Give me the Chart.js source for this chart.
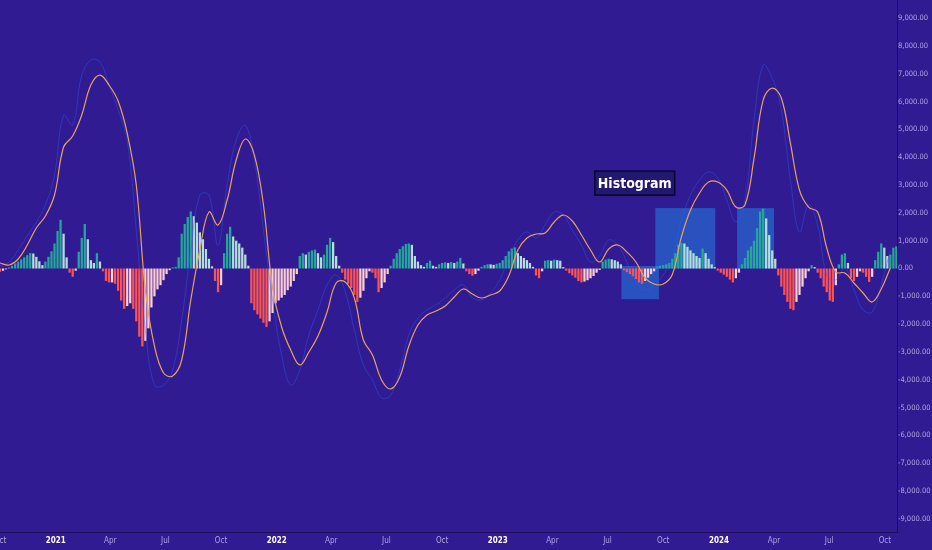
<!DOCTYPE html>
<html>
<head>
<meta charset="utf-8">
<script src="https://cdn.jsdelivr.net/npm/chart.js@4.4.1/dist/chart.umd.min.js"></script>
<style>
html,body{margin:0;padding:0;background:#311b92;overflow:hidden}
canvas{display:block}
</style>
</head>
<body>
<canvas id="macd" width="932" height="550"></canvas>
<script>
// days counted from 1 Oct 2020
const HIST_STEP=5, LINE_STEP=15;
const tickDays=[0,92,182,273,365,457,547,638,730,822,912,1003,1095,1187,1278,1369,1461];
const tickLabels=['Oct','2021','Apr','Jul','Oct','2022','Apr','Jul','Oct','2023','Apr','Jul','Oct','2024','Apr','Jul','Oct'];
const yTicks=[-9000,-8000,-7000,-6000,-5000,-4000,-3000,-2000,-1000,0,1000,2000,3000,4000,5000,6000,7000,8000,9000];

const histogram=[-120,-80,-30,40,100,180,250,330,400,480,560,540,420,260,120,
 250,420,620,900,1350,1750,1250,400,-150,-300,-80,600,1100,1600,1050,300,200,550,250,
 -100,-450,-500,-500,-550,-800,-1150,-1450,-1350,-1250,-1450,-1900,-2450,-2800,-2600,-2150,-1400,-1000,-750,-600,-420,-200,-60,
 40,60,400,1250,1600,1850,2050,1880,1650,1300,1050,700,350,80,-450,-850,-600,
 550,1250,1500,1150,1000,900,750,500,100,
 -1250,-1500,-1650,-1800,-1950,-2100,-1900,-1600,-1250,-1150,-1050,-950,-780,-650,-450,-200,
 450,550,500,600,650,680,550,400,500,850,1100,950,450,100,
 -150,-400,-550,-700,-950,-1200,-1050,-800,-350,-100,-150,-350,-850,-700,-500,-200,
 100,350,550,700,800,880,900,850,450,250,120,
 60,200,280,100,60,150,200,220,200,230,200,250,380,180,
 -100,-200,-260,-200,-80,60,120,150,150,130,170,200,
 300,450,620,720,760,550,450,380,300,200,60,-250,-350,-100,
 280,300,280,320,300,280,50,
 -80,-170,-250,-330,-450,-500,-470,-420,-350,-270,-150,-50,
 250,320,350,330,300,250,150,
 -60,-130,-200,-280,-380,-500,-550,-450,-330,-200,-100,
 40,100,120,150,200,350,550,850,920,900,780,650,550,450,380,720,550,350,150,50,
 -80,-150,-220,-300,-400,-500,-350,-150,
 150,380,650,800,1000,1450,2050,2150,1800,1200,650,350,
 -250,-650,-950,-1200,-1450,-1500,-1200,-950,-650,-350,-100,120,50,
 -150,-350,-650,-850,-1150,-1200,-600,150,500,550,200,
 -350,-450,-300,-100,-150,-300,-480,-300,
 300,600,900,750,450,500,750,800];

const macdLine=[100,230,660,1170,1670,2280,3360,5510,5150,6950,
 7490,7420,6590,5700,4620,1380,-2210,-4190,-4190,-3650,
 -1850,660,2640,2640,840,3000,4620,5150,3900,1380,
 -1130,-3110,-4190,-3650,-2390,-1490,-590,-230,-840,-2210,
 -3470,-4010,-4650,-4550,-3650,-2390,-1780,-1490,-1310,-1060,
 -770,-590,-1060,-1130,-880,-410,380,1020,1310,1100,
 1560,2030,1920,1380,840,230,450,1020,840,230,
 -490,-770,-590,-230,380,1740,2640,3180,3470,3250,
 2460,1670,2460,5340,7310,6840,5700,3180,1310,2280,
 1560,-230,-410,20,-770,-1490,-1560,-590,660];

const signalLine=[198,126,341,844,1455,1886,2641,4365,4760,5515,
 6593,6952,6593,6018,4868,3000,-772,-2785,-3755,-3863,
 -3288,-1132,665,2030,1563,2461,3898,4653,4078,2282,
 -700,-2102,-2928,-3467,-3000,-2425,-1563,-521,-485,-1060,
 -2569,-3108,-4006,-4329,-3898,-2785,-2030,-1671,-1527,-1347,
 -1024,-736,-916,-1060,-952,-808,-270,665,1096,1240,
 1276,1671,1922,1707,1204,665,234,700,844,593,
 234,-341,-557,-557,-216,1132,2102,2713,3108,3108,
 2820,2210,2282,3970,6054,6485,6126,4509,2820,2210,
 2030,737,-126,-162,-521,-880,-1204,-736,18];

// highlighted zones (days / values) and the label
const zoneFrom=[1026,1082,1217], zoneTo=[1088,1181,1278];
const zoneTop=[90,2170,2170], zoneBottom=[-1100,0,0];
const noteText='Histogram', noteDay=1048, noteValue=3070;

const BG='#311b92';
const TXT='rgba(205,198,240,0.8)';
const NARROW='"Liberation Sans Narrow","DejaVu Sans Condensed",sans-serif';

function histColor(ctx){
 const i=ctx.dataIndex, v=histogram[i], p=i>0?histogram[i-1]:0;
 if(v>=0)return v>p?'#26a69a':'#b2dfdb';
 return v<p?'#ff5252':'#ffcdd2';
}

const bgPlugin={id:'bg',beforeDraw(chart){
 const c=chart.ctx;c.save();c.fillStyle=BG;c.fillRect(0,0,chart.width,chart.height);c.restore();
}};
const notes={id:'notes',
 beforeDatasetsDraw(chart){
  const {ctx,scales:{x,y}}=chart;ctx.save();ctx.fillStyle='rgba(33,150,243,0.45)';
  zoneFrom.forEach((f,i)=>{
   const x0=x.getPixelForValue(f),x1=x.getPixelForValue(zoneTo[i]);
   const y0=y.getPixelForValue(zoneTop[i]),y1=y.getPixelForValue(zoneBottom[i]);
   ctx.fillRect(x0,y0,x1-x0,y1-y0);
  });
  ctx.restore();
 },
 afterDatasetsDraw(chart){
  const {ctx,scales:{x,y}}=chart;ctx.save();
  ctx.font='bold 14px '+NARROW;
  const w=ctx.measureText(noteText).width+6,h=24;
  const cx=x.getPixelForValue(noteDay),cy=y.getPixelForValue(noteValue);
  ctx.fillStyle='#221870';ctx.fillRect(cx-w/2,cy-h/2,w,h);
  ctx.strokeStyle='#07052a';ctx.lineWidth=1.5;ctx.strokeRect(cx-w/2,cy-h/2,w,h);
  ctx.fillStyle='#ffffff';ctx.textAlign='center';ctx.textBaseline='middle';
  ctx.fillText(noteText,cx,cy+1);
  ctx.restore();
 }};

new Chart(document.getElementById('macd'),{
 type:'bar',
 data:{datasets:[
  {type:'line',label:'Signal',data:signalLine.map((v,i)=>({x:i*LINE_STEP,y:v})),borderColor:'#e9a25c',borderWidth:1.2,pointRadius:0,tension:0.4,order:1},
  {type:'line',label:'MACD',data:macdLine.map((v,i)=>({x:i*LINE_STEP,y:v})),borderColor:'rgba(41,98,255,0.4)',borderWidth:1,pointRadius:0,tension:0.4,order:2},
  {type:'bar',label:'Histogram',data:histogram.map((v,i)=>({x:i*HIST_STEP,y:v})),backgroundColor:histColor,barPercentage:0.75,categoryPercentage:1,order:3}
 ]},
 options:{
  responsive:false,animation:false,
  layout:{padding:0},
  plugins:{legend:{display:false},tooltip:{enabled:false}},
  scales:{
   x:{type:'linear',min:0,max:1481,offset:false,
    grid:{display:false,drawTicks:false},border:{color:'rgba(20,10,70,0.7)'},
    ticks:{autoSkip:false,maxRotation:0,padding:4,
     callback:(v,i)=>tickLabels[i],
     color:c=>[1,5,9,13].includes(c.index)?'#ffffff':TXT,
     font:c=>({family:NARROW,size:8,weight:[1,5,9,13].includes(c.index)?'bold':'normal'})},
    afterBuildTicks:s=>{s.ticks=tickDays.map(v=>({value:v}))},
    afterFit:s=>{s.height=18;s.paddingLeft=0;s.paddingRight=0}},
   y:{position:'right',min:-9470,max:9650,
    grid:{display:false,drawTicks:false},border:{color:'rgba(20,10,70,0.7)'},
    ticks:{padding:1,color:TXT,font:{family:NARROW,size:7.5},
     callback:v=>v.toLocaleString('en-US',{minimumFractionDigits:2,maximumFractionDigits:2})},
    afterBuildTicks:s=>{s.ticks=yTicks.map(v=>({value:v}))},
    afterFit:s=>{s.width=35;s.paddingTop=0;s.paddingBottom=0}}
  }
 },
 plugins:[bgPlugin,notes]
});
</script>
</body>
</html>
